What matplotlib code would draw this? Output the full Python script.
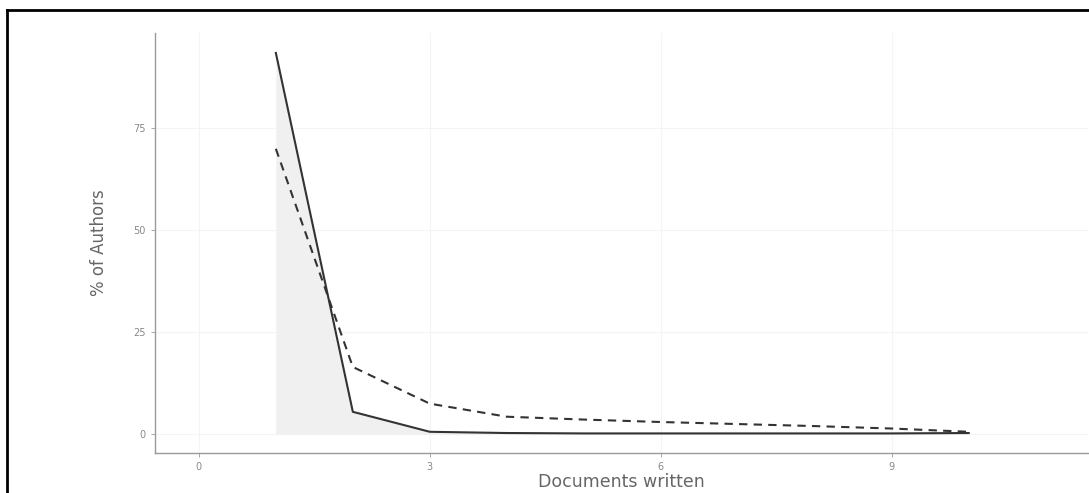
import numpy as np
import matplotlib.pyplot as plt
from matplotlib.lines import Line2D

# Data
docs = [1, 2, 3, 4, 5, 6, 7, 8, 9, 10]
solid_pct = [93.5, 5.5, 0.6, 0.3, 0.2, 0.2, 0.2, 0.2, 0.2, 0.3]
dashed_pct = [70.0, 16.5, 7.5, 4.3, 3.6, 3.0, 2.5, 2.0, 1.4, 0.6]
xticks = [0, 3, 6, 9]
yticks = [0, 25, 50, 75]

fig = plt.figure(figsize=(10.89, 4.93), dpi=100)
ax = fig.add_axes([155 / 1089, 1 - 453 / 493, (1088 - 155) / 1089, (453 - 33) / 493])

# shaded area under the solid line
ax.fill_between(docs, 0, solid_pct, color='#f0f0f0', linewidth=0, zorder=1)
ax.plot(docs, solid_pct, color='#333333', lw=1.5, zorder=3)
ax.plot(docs, dashed_pct, color='#333333', lw=1.5, ls=(0, (4, 3)), zorder=3)

ax.set_xlim(-0.57, 11.55)
ax.set_ylim(-4.6, 98.4)
ax.set_xticks(xticks)
ax.set_yticks(yticks)
ax.grid(True, color='#f4f4f4', lw=0.8, zorder=0)
ax.set_axisbelow(True)

for s in ['top', 'right']:
    ax.spines[s].set_visible(False)
for s in ['left', 'bottom']:
    ax.spines[s].set_color('#999999')
    ax.spines[s].set_linewidth(1.0)
ax.tick_params(colors='#999999', labelcolor='#888888', labelsize=7, length=3, width=0.6)

ax.set_xlabel('Documents written', fontsize=12.5, color='#666666', labelpad=1)
ax.set_ylabel('% of Authors', fontsize=12, color='#666666', labelpad=18)

# frame lines at top and left of the picture
fig.add_artist(Line2D([7 / 1089, 1], [1 - 10 / 493] * 2, color='black', lw=2, transform=fig.transFigure))
fig.add_artist(Line2D([7 / 1089] * 2, [0, 1 - 10 / 493], color='black', lw=2, transform=fig.transFigure))

fig.savefig('out.png', dpi=100)
